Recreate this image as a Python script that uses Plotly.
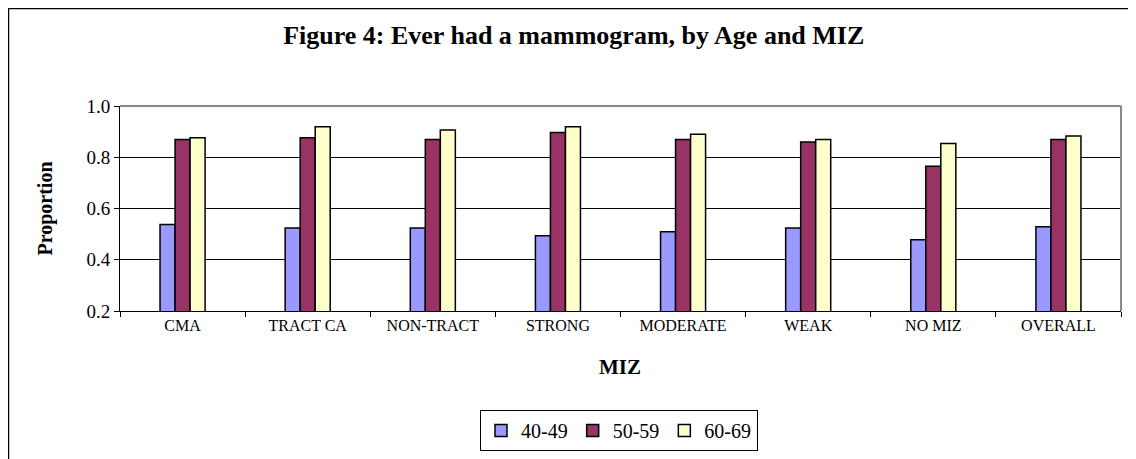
import plotly.graph_objects as go

categories = ["CMA", "TRACT CA", "NON-TRACT", "STRONG", "MODERATE", "WEAK", "NO MIZ", "OVERALL"]
age_40_49 = [0.538, 0.524, 0.524, 0.494, 0.509, 0.524, 0.478, 0.529]
age_50_59 = [0.869, 0.876, 0.869, 0.897, 0.869, 0.860, 0.765, 0.869]
age_60_69 = [0.876, 0.919, 0.906, 0.919, 0.890, 0.869, 0.854, 0.883]
series_names = ["40-49", "50-59", "60-69"]
series_values = [age_40_49, age_50_59, age_60_69]
colors = ["#9999FF", "#993366", "#FFFFCC"]

FONT = "Liberation Serif"

fig = go.Figure()
for name, vals, col in zip(series_names, series_values, colors):
    fig.add_trace(go.Bar(
        x=categories, y=vals, name=name,
        marker=dict(color=col, line=dict(color="black", width=1.5)),
    ))

fig.update_layout(
    width=1136, height=459,
    margin=dict(l=112, r=23, t=98, b=156, autoexpand=False),
    paper_bgcolor="white", plot_bgcolor="white",
    barmode="group", bargap=0.64, bargroupgap=0,
    font=dict(family=FONT, color="black"),
    title=dict(text="<b>Figure 4: Ever had a mammogram, by Age and MIZ</b>",
               x=0.498, xref="container", xanchor="center",
               y=0.941, yanchor="middle", font=dict(size=26, family=FONT, color="black")),
    showlegend=True,
    legend=dict(orientation="h", x=0.4985, xanchor="center", y=-0.483, yanchor="top",
                bordercolor="black", borderwidth=1, font=dict(size=20, family=FONT),
                itemwidth=30, traceorder="normal"),
)

fig.update_xaxes(
    type="category", tickson="boundaries", ticks="outside", ticklen=5, tickcolor="black",
    showline=True, linecolor="black", linewidth=1, mirror=False,
    tickfont=dict(size=16, family=FONT), showgrid=False,
)
fig.update_yaxes(
    range=[0.2, 1.0], dtick=0.2, tickformat=".1f", ticks="outside", ticklen=5, tickcolor="black",
    showline=True, linecolor="black", linewidth=1,
    showgrid=True, gridcolor="black", gridwidth=1, zeroline=False,
    tickfont=dict(size=19, family=FONT),
)

# axis titles
fig.add_annotation(text="<b>MIZ</b>", xref="paper", yref="paper", x=0.4995, y=-0.273,
                   xanchor="center", yanchor="middle", showarrow=False,
                   font=dict(size=21, family=FONT, color="black"))
fig.add_annotation(text="<b>Proportion</b>", xref="paper", yref="paper", x=-0.0749, y=0.5,
                   xanchor="center", yanchor="middle", showarrow=False, textangle=-90,
                   font=dict(size=20, family=FONT, color="black"))

# plot area top/right border (gray)
fig.add_shape(type="line", xref="paper", yref="paper", x0=0, x1=1, y0=1, y1=1,
              line=dict(color="#888888", width=2))
fig.add_shape(type="line", xref="paper", yref="paper", x0=1, x1=1, y0=0, y1=1,
              line=dict(color="#888888", width=2))
# outer chart border
fig.add_shape(type="rect", xref="paper", yref="paper",
              x0=-0.1114, x1=1.05, y0=-1.0, y1=1.4756,
              line=dict(color="black", width=1.5), fillcolor="rgba(0,0,0,0)")

fig.write_html("out.html")
